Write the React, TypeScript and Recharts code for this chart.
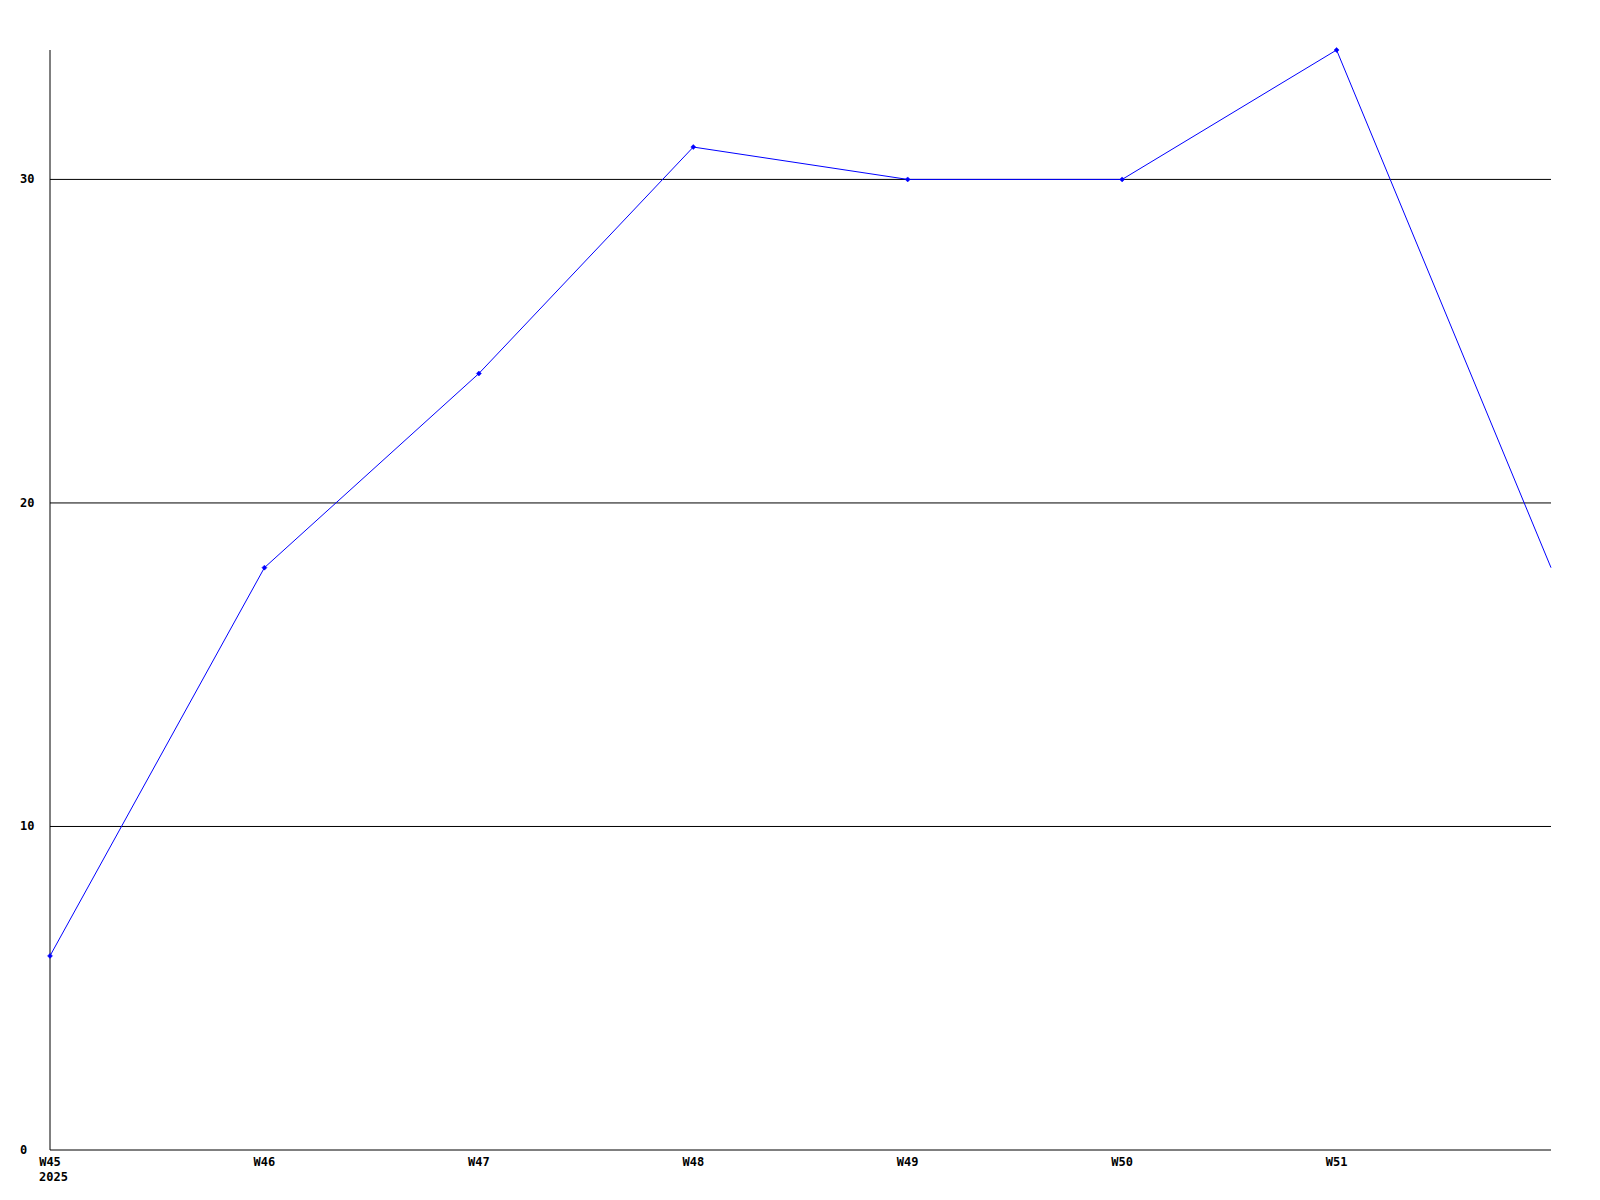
import { CartesianGrid, Line, LineChart, XAxis, YAxis } from "recharts";

const weeks = ["W45", "W46", "W47", "W48", "W49", "W50", "W51", "W52"];
const counts = [6, 18, 24, 31, 30, 30, 34, 18];
const yTicks = [0, 10, 20, 30];
const yearLabel = "2025";

const data = weeks.map((week, i) => ({ x: i, week, count: counts[i] }));

const FONT = "'DejaVu Sans Mono', monospace";

function WeekTick(props: any) {
  const { x, y, payload } = props;
  const i = payload.value as number;
  return (
    <g>
      <text x={x} y={y + 8} textAnchor="middle" fontFamily={FONT} fontWeight="bold" fontSize={12} fill="#000">
        {weeks[i]}
      </text>
      {i === 0 && (
        <text x={x - 11} y={y + 23} textAnchor="start" fontFamily={FONT} fontWeight="bold" fontSize={12} fill="#000">
          {yearLabel}
        </text>
      )}
    </g>
  );
}

// y labels sit flush left, not against the axis
function CountTick(props: any) {
  const { y, payload } = props;
  return (
    <text x={20} y={y} dy={4} textAnchor="start" fontFamily={FONT} fontWeight="bold" fontSize={12} fill="#000">
      {payload.value}
    </text>
  );
}

function Marker(props: any) {
  const { cx, cy, index } = props;
  if (index === weeks.length - 1 || cx == null) return <g key={index} />;
  return (
    <path
      key={index}
      d={`M${cx - 2.5},${cy} L${cx},${cy - 2.5} L${cx + 2.5},${cy} L${cx},${cy + 2.5} Z`}
      fill="#0000ff"
      stroke="#0000ff"
      strokeWidth={0.5}
    />
  );
}

export default function App() {
  return (
    <div style={{ position: "absolute", left: 0, top: 0, width: 1600, height: 1200, background: "#fff" }}>
      <LineChart width={1600} height={1200} data={data} margin={{ top: 50, right: 49, bottom: 0, left: 0 }}>
        <CartesianGrid vertical={false} horizontalValues={[10, 20, 30]} stroke="#000" strokeWidth={1} />
        <XAxis
          dataKey="x"
          type="number"
          domain={[0, 7]}
          ticks={[0, 1, 2, 3, 4, 5, 6]}
          height={50}
          stroke="#000"
          tickLine={false}
          tick={<WeekTick />}
          interval={0}
        />
        <YAxis
          domain={[0, 34]}
          ticks={yTicks}
          width={50}
          stroke="#000"
          tickLine={false}
          tick={<CountTick />}
        />
        <Line
          type="linear"
          dataKey="count"
          stroke="#0000ff"
          strokeWidth={1}
          dot={<Marker />}
          activeDot={false}
          isAnimationActive={false}
        />
      </LineChart>
    </div>
  );
}
